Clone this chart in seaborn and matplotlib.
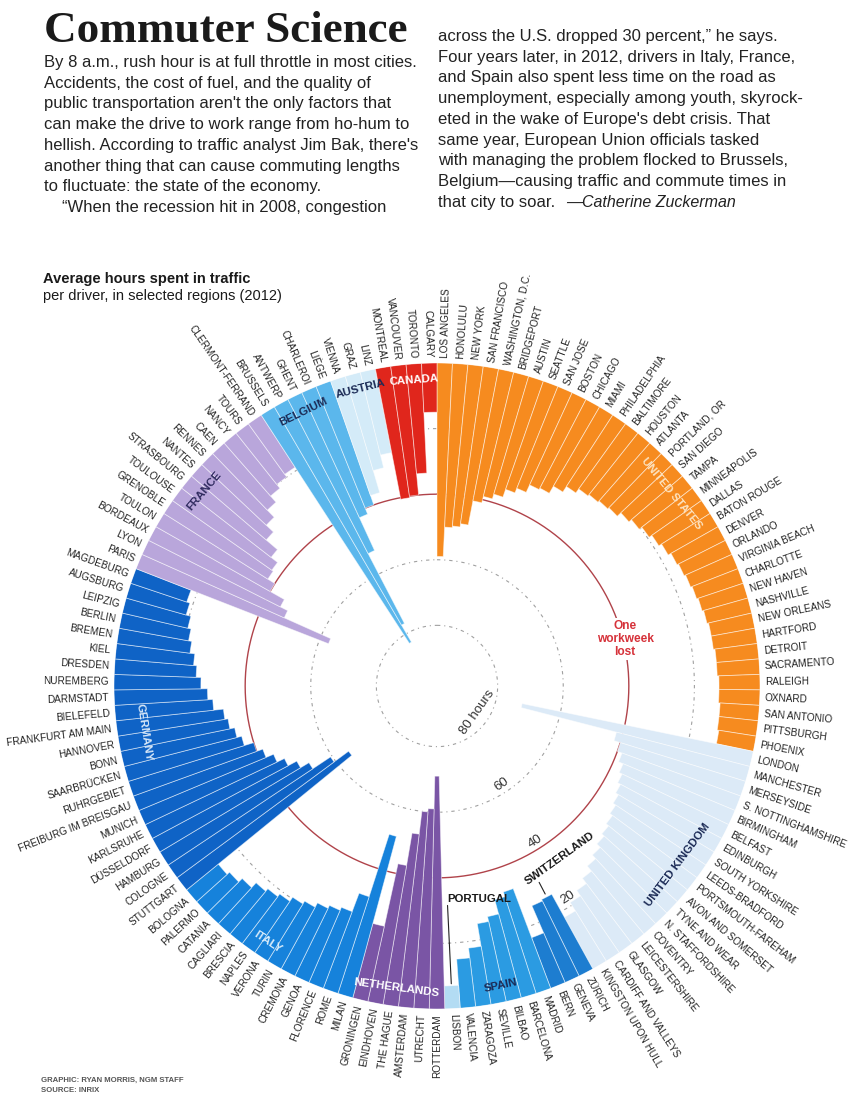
import numpy as np
import pandas as pd
import seaborn as sns
import matplotlib
matplotlib.use('Agg')
import matplotlib.pyplot as plt
from matplotlib import font_manager

us_cities = ["LOS ANGELES", "HONOLULU", "NEW YORK", "SAN FRANCISCO", "WASHINGTON, D.C.",
             "BRIDGEPORT", "AUSTIN", "SEATTLE", "SAN JOSE", "BOSTON", "CHICAGO", "MIAMI",
             "PHILADELPHIA", "BALTIMORE", "HOUSTON", "ATLANTA", "PORTLAND, OR", "SAN DIEGO",
             "TAMPA", "MINNEAPOLIS", "DALLAS", "BATON ROUGE", "DENVER", "ORLANDO",
             "VIRGINIA BEACH", "CHARLOTTE", "NEW HAVEN", "NASHVILLE", "NEW ORLEANS",
             "HARTFORD", "DETROIT", "SACRAMENTO", "RALEIGH", "OXNARD", "SAN ANTONIO",
             "PITTSBURGH", "PHOENIX"]
us_hours = [59, 50, 49.5, 48.5, 41, 39, 37.5, 35, 33.5, 31, 30.5, 28, 26, 24.5, 24, 23.5,
            23, 21.5, 20.5, 19.5, 18.5, 17.5, 16.5, 16, 15.5, 15, 14.5, 14, 13.5, 13.5,
            13, 13, 12.5, 12.5, 12, 12, 11.5]

uk_cities = ["LONDON", "MANCHESTER", "MERSEYSIDE", "S. NOTTINGHAMSHIRE", "BIRMINGHAM",
             "BELFAST", "EDINBURGH", "SOUTH YORKSHIRE", "LEEDS-BRADFORD",
             "PORTSMOUTH-FAREHAM", "AVON AND SOMERSET", "TYNE AND WEAR",
             "N. STAFFORDSHIRE", "COVENTRY", "LEICESTERSHIRE", "GLASGOW",
             "CARDIFF AND VALLEYS", "KINGSTON UPON HULL"]
uk_hours = [72, 42, 40, 38.5, 37, 36, 35, 34, 33, 32, 31, 30, 28.5, 27, 25, 23, 21, 18]

ch_cities = ["ZÜRICH", "GENEVA", "BERN"]
ch_hours = [26, 25.5, 16.5]

es_cities = ["MADRID", "BARCELONA", "BILBAO", "SEVILLE", "ZARAGOZA", "VALENCIA"]
es_hours = [32.5, 31, 26.5, 25, 18, 15]

pt_cities = ["LISBON"]
pt_hours = [7]

nl_cities = ["ROTTERDAM", "UTRECHT", "AMSTERDAM", "THE HAGUE", "EINDHOVEN", "GRONINGEN"]
nl_hours = [71, 61, 60, 53, 43, 23.5]

it_cities = ["MILAN", "ROME", "FLORENCE", "GENOA", "CREMONA", "TURIN", "VERONA", "NAPLES",
             "BRESCIA", "CAGLIARI", "CATANIA", "PALERMO", "BOLOGNA"]
it_hours = [51, 31, 25, 24, 23, 21.5, 20.5, 19, 18, 17, 15, 13.5, 12.5]

de_cities = ["STUTTGART", "COLOGNE", "HAMBURG", "DÜSSELDORF", "KARLSRUHE", "MUNICH",
             "FREIBURG IM BREISGAU", "RUHRGEBIET", "SAARBRÜCKEN", "BONN", "HANNOVER",
             "FRANKFURT AM MAIN", "BIELEFELD", "DARMSTADT", "NUREMBERG", "DRESDEN", "KIEL",
             "BREMEN", "BERLIN", "LEIPZIG", "AUGSBURG", "MAGDEBURG"]
de_hours = [65, 59.5, 53, 50, 47, 44.5, 42, 40, 37, 35.5, 34, 33, 30, 28.5, 26.5, 25, 24,
            22.5, 21.5, 20.5, 19, 18]

fr_cities = ["PARIS", "LYON", "BORDEAUX", "TOULON", "GRENOBLE", "TOULOUSE", "STRASBOURG",
             "NANTES", "RENNES", "CAEN", "NANCY", "TOURS", "CLERMONT-FERRAND"]
fr_hours = [63, 47.5, 45, 40, 37.5, 37, 34.5, 30, 27, 24, 21.5, 20, 19]

be_cities = ["BRUSSELS", "ANTWERP", "GHENT", "CHARLEROI", "LIÈGE"]
be_hours = [83, 77, 53, 42, 40]

at_cities = ["VIENNA", "GRAZ", "LINZ"]
at_hours = [37, 30, 26]

ca_cities = ["MONTREAL", "VANCOUVER", "TORONTO", "CALGARY"]
ca_hours = [40.5, 40, 33.5, 15]

groups = [
    ("UNITED STATES", us_cities, us_hours, "#f68b1f"),
    ("UNITED KINGDOM", uk_cities, uk_hours, "#dceaf7"),
    ("SWITZERLAND", ch_cities, ch_hours, "#1d7dd0"),
    ("SPAIN", es_cities, es_hours, "#2b9be2"),
    ("PORTUGAL", pt_cities, pt_hours, "#b3dcf3"),
    ("NETHERLANDS", nl_cities, nl_hours, "#7a55a5"),
    ("ITALY", it_cities, it_hours, "#1682db"),
    ("GERMANY", de_cities, de_hours, "#0f63c6"),
    ("FRANCE", fr_cities, fr_hours, "#b9a6db"),
    ("BELGIUM", be_cities, be_hours, "#5bb7ec"),
    ("AUSTRIA", at_cities, at_hours, "#d4ebf8"),
    ("CANADA", ca_cities, ca_hours, "#e0261c"),
]

rows = []
for country, cities, hours, col in groups:
    for c, h in zip(cities, hours):
        rows.append({"country": country, "city": c, "hours": h, "color": col})
df = pd.DataFrame(rows)
n = len(df)
step = 2 * np.pi / n
df["theta"] = (np.arange(n) + 0.5) * step

sns.set_theme(style="white")
avail = {f.name for f in font_manager.fontManager.ttflist}
SANS = "Liberation Sans" if "Liberation Sans" in avail else "DejaVu Sans"
SERIF = "Liberation Serif" if "Liberation Serif" in avail else "DejaVu Serif"
NARROW = "Liberation Sans Narrow" if "Liberation Sans Narrow" in avail else SANS
label_size = 8.6 if NARROW == "Liberation Sans Narrow" else 7.2
plt.rcParams["font.family"] = [SANS, "DejaVu Sans"]

W, H = 850, 1093
fig = plt.figure(figsize=(W / 100, H / 100), dpi=100)
fig.patch.set_facecolor("white")


def px(x, y):
    return x / W, 1 - y / H


# header text
fig.text(*px(44, 42), "Commuter Science", family=SERIF, weight="heavy", fontsize=32.5,
         color="#1a1a1a", va="baseline")
left_col = ["By 8 a.m., rush hour is at full throttle in most cities.",
            "Accidents, the cost of fuel, and the quality of",
            "public transportation aren't the only factors that",
            "can make the drive to work range from ho-hum to",
            "hellish. According to traffic analyst Jim Bak, there's",
            "another thing that can cause commuting lengths",
            "to fluctuate: the state of the economy.",
            "\u201cWhen the recession hit in 2008, congestion"]
right_col = ["across the U.S. dropped 30 percent,\u201d he says.",
             "Four years later, in 2012, drivers in Italy, France,",
             "and Spain also spent less time on the road as",
             "unemployment, especially among youth, skyrock-",
             "eted in the wake of Europe's debt crisis. That",
             "same year, European Union officials tasked",
             "with managing the problem flocked to Brussels,",
             "Belgium\u2014causing traffic and commute times in",
             "that city to soar."]
for i, line in enumerate(left_col):
    x0 = 62 if i == len(left_col) - 1 else 44
    fig.text(*px(x0, 67 + 20.7 * i), line, fontsize=12, color="#222222", va="baseline")
for i, line in enumerate(right_col):
    fig.text(*px(438, 41 + 20.7 * i), line, fontsize=12, color="#222222", va="baseline")
fig.text(*px(566, 41 + 20.7 * 8), "\u2014Catherine Zuckerman", fontsize=11.5,
         style="italic", color="#222222", va="baseline")

fig.text(*px(43, 283), "Average hours spent in traffic", fontsize=10.5, weight="bold",
         color="#1a1a1a", va="baseline")
fig.text(*px(43, 300), "per driver, in selected regions (2012)", fontsize=10.5,
         color="#1a1a1a", va="baseline")
fig.text(*px(41, 1082), "GRAPHIC: RYAN MORRIS, NGM STAFF", fontsize=5.6, weight="bold",
         color="#555555", va="baseline", family=NARROW)
fig.text(*px(41, 1092), "SOURCE: INRIX", fontsize=5.6, weight="bold",
         color="#555555", va="baseline", family=NARROW)

# radial chart: 0 hours on the outer ring, longer commutes reach toward the centre
cx, cy, R = 437, 686, 323
ax = fig.add_axes([(cx - R) / W, (H - cy - R) / H, 2 * R / W, 2 * R / H], projection="polar")
ax.set_theta_zero_location("N")
ax.set_theta_direction(-1)
ax.set_ylim(98.5, 0)
ax.set_axis_off()

ring = np.linspace(0, 2 * np.pi, 721)
for lvl in [20, 60, 80]:
    ax.plot(ring, np.full_like(ring, lvl), color="#a0a0a0", lw=0.8,
            ls=(0, (3, 3.5, 1, 3.5)), zorder=1)
ax.plot(ring, np.full_like(ring, 40), color="#b0434a", lw=1.0, zorder=1)

ax.bar(df["theta"], df["hours"], width=step, bottom=0, color=df["color"],
       edgecolor=(1, 1, 1, 0.55), linewidth=0.6, zorder=3)

for th, city in zip(df["theta"], df["city"]):
    deg = np.degrees(th)
    if deg < 180:
        rot, ha = 90 - deg, "left"
    else:
        rot, ha = 270 - deg, "right"
    ax.text(th, -1.6, city, rotation=rot, rotation_mode="anchor", ha=ha, va="center",
            fontsize=label_size, family=NARROW, color="#222222", clip_on=False)

# country names set along the ring
country_tags = [("UNITED STATES", 50.7, 6, "#fde3c0"), ("CANADA", 355.7, 5, "white"),
                ("AUSTRIA", 345.6, 5, "#1b2a55"), ("BELGIUM", 334, 5.5, "#1b2a55"),
                ("FRANCE", 310, 6, "#2e2a5e"), ("GERMANY", 261, 8, "#d8e8f8"),
                ("ITALY", 213.5, 5, "#d8ecfb"), ("NETHERLANDS", 187.7, 5.5, "white"),
                ("SPAIN", 168, 5, "#1b2a55"), ("UNITED KINGDOM", 126.7, 7, "#1b2a55")]
for name, deg, r, col in country_tags:
    rot = -deg if (deg < 90 or deg > 270) else 180 - deg
    ax.text(np.radians(deg), r, name, rotation=rot, rotation_mode="anchor", ha="center",
            va="center", fontsize=8.2, weight="bold", family=NARROW, color=col, zorder=5)

lis = df[df["city"] == "LISBON"].iloc[0]
ax.plot([lis["theta"], lis["theta"]], [lis["hours"] + 0.6, 31.5], color="#222222", lw=0.8,
        zorder=4)
ax.text(lis["theta"], 31.8, "PORTUGAL", ha="left", va="bottom", fontsize=8.2,
        weight="bold", family=NARROW, color="#1a1a1a", zorder=5)
zur = df[df["city"] == "ZÜRICH"].iloc[0]
ax.plot([zur["theta"], zur["theta"]], [zur["hours"] + 1, 31], color="#222222", lw=0.8,
        zorder=4)
ax.text(np.radians(144.4), 34, "SWITZERLAND", rotation=35.6, rotation_mode="anchor",
        ha="center", va="center", fontsize=8.2, weight="bold", family=NARROW,
        color="#1a1a1a", zorder=5)

# scale labels along one spoke
for lvl, deg, r, rot in [(20, 148.3, 22.6, 33), (40, 147.9, 42.4, 33), (60, 146.7, 62.5, 35)]:
    ax.text(np.radians(deg), r, str(lvl), rotation=rot, ha="center", va="center",
            fontsize=9.5, color="#333333", zorder=5)
ax.text(np.radians(123), 84, "80 hours", rotation=55, ha="center", va="center",
        fontsize=9.5, color="#333333", zorder=5)
ax.text(np.radians(76), 39.4, "One\nworkweek\nlost", ha="center", va="center",
        fontsize=8.6, weight="bold", color="#d6323a", linespacing=1.15, zorder=5,
        bbox=dict(facecolor="white", edgecolor="none", pad=1.5))

fig.savefig("out.png", dpi=100, facecolor="white")
